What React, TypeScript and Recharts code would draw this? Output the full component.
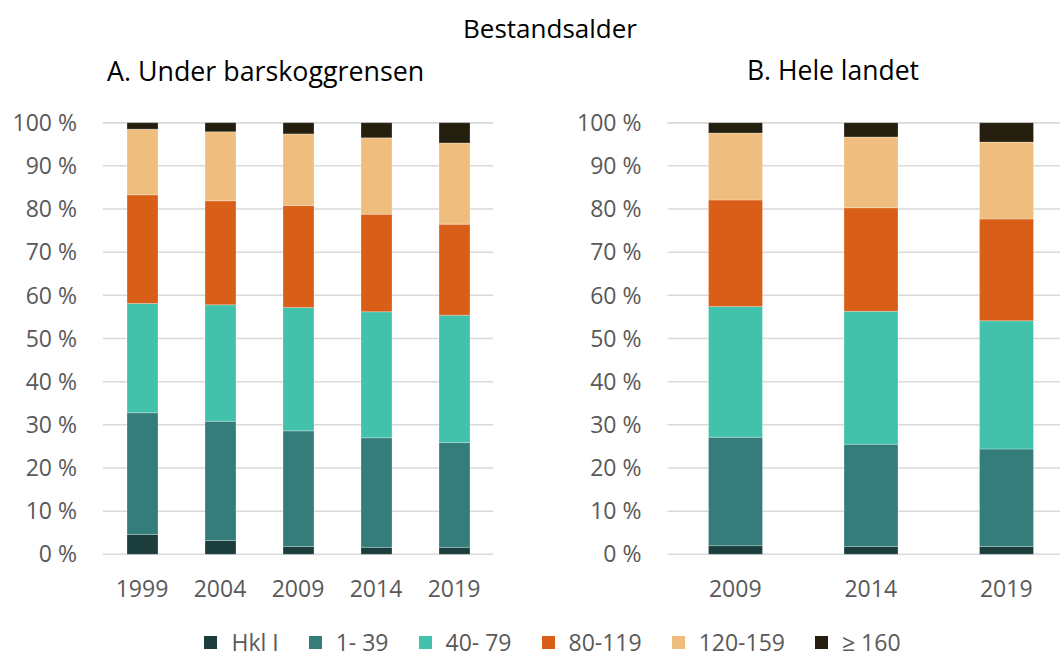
import { BarChart, Bar, XAxis, YAxis, CartesianGrid } from 'recharts';

const yearsA = ['1999', '2004', '2009', '2014', '2019'];
const hklA = [4.6, 3.2, 1.8, 1.6, 1.6];
const age1to39A = [28.2, 27.6, 26.8, 25.4, 24.3];
const age40to79A = [25.3, 27.0, 28.6, 29.2, 29.5];
const age80to119A = [25.2, 24.1, 23.6, 22.6, 21.1];
const age120to159A = [15.2, 16.0, 16.6, 17.7, 18.8];
const age160A = [1.5, 2.1, 2.6, 3.5, 4.7];

const yearsB = ['2009', '2014', '2019'];
const hklB = [2.0, 1.8, 1.8];
const age1to39B = [25.1, 23.7, 22.6];
const age40to79B = [30.3, 30.8, 29.7];
const age80to119B = [24.7, 24.0, 23.6];
const age120to159B = [15.5, 16.4, 17.8];
const age160B = [2.4, 3.3, 4.5];

const yTicks = [0, 10, 20, 30, 40, 50, 60, 70, 80, 90, 100];

const seriesKeys = ['hkl', 'a1', 'a40', 'a80', 'a120', 'a160'];
const seriesLabels = ['Hkl I', '1- 39', '40- 79', '80-119', '120-159', '≥ 160'];
const seriesColors = ['#1b3d3c', '#347d7b', '#42c2ab', '#d95f19', '#efbe7e', '#241e0f'];

const TEXT = '#595959';
const FONT = '"Open Sans", sans-serif';

function buildRows(years: string[], cols: number[][]) {
  return years.map((year, i) => {
    const row: Record<string, any> = { year };
    seriesKeys.forEach((k, j) => {
      row[k] = cols[j][i];
    });
    return row;
  });
}

const dataA = buildRows(yearsA, [hklA, age1to39A, age40to79A, age80to119A, age120to159A, age160A]);
const dataB = buildRows(yearsB, [hklB, age1to39B, age40to79B, age80to119B, age120to159B, age160B]);

const tickStyle = { fill: TEXT, fontSize: 23, fontFamily: FONT };

function Panel({ data, width, yWidth, barSize }: { data: any[]; width: number; yWidth: number; barSize: number }) {
  return (
    <BarChart width={width} height={520} data={data} margin={{ top: 22.7, right: 0, left: 0, bottom: 25.7 }}>
      <CartesianGrid vertical={false} stroke="#d9d9d9" strokeWidth={1.5} />
      <XAxis
        dataKey="year"
        axisLine={false}
        tickLine={false}
        tick={tickStyle}
        tickMargin={20}
        height={40}
        interval={0}
      />
      <YAxis
        domain={[0, 100]}
        ticks={yTicks}
        axisLine={false}
        tickLine={false}
        tick={tickStyle}
        tickMargin={20}
        width={yWidth}
        tickFormatter={(v) => `${v} %`}
        interval={0}
      />
      {seriesKeys.map((k, i) => (
        <Bar
          key={k}
          dataKey={k}
          stackId="s"
          fill={seriesColors[i]}
          barSize={barSize}
          stroke="#ffffff"
          strokeOpacity={0.25}
          strokeWidth={1}
          isAnimationActive={false}
        />
      ))}
    </BarChart>
  );
}

export default function App() {
  return (
    <div
      style={{
        position: 'absolute',
        left: 0,
        top: 0,
        width: 1060,
        height: 658,
        overflow: 'hidden',
        background: '#fff',
        fontFamily: FONT,
        color: '#000',
      }}
    >
      <div style={{ position: 'absolute', top: 10, left: 0, width: 1100, textAlign: 'center', fontSize: 26 }}>
        Bestandsalder
      </div>
      <div style={{ position: 'absolute', top: 52, left: 107, fontSize: 26.8, whiteSpace: 'nowrap' }}>
        A. Under barskoggrensen
      </div>
      <div style={{ position: 'absolute', top: 52, left: 747, fontSize: 26.5, whiteSpace: 'nowrap' }}>
        B. Hele landet
      </div>

      <div style={{ position: 'absolute', left: 0, top: 100 }}>
        <Panel data={dataA} width={493} yWidth={103} barSize={31} />
      </div>
      <div style={{ position: 'absolute', left: 560, top: 100 }}>
        <Panel data={dataB} width={514} yWidth={107.5} barSize={54} />
      </div>

      <div
        style={{
          position: 'absolute',
          top: 632,
          left: 0,
          width: 1105,
          display: 'flex',
          justifyContent: 'center',
          gap: 30,
          fontSize: 23,
          color: TEXT,
          lineHeight: '20px',
        }}
      >
        {seriesLabels.map((label, i) => (
          <div key={label} style={{ display: 'flex', alignItems: 'center', gap: 14 }}>
            <span style={{ width: 13, height: 13, background: seriesColors[i], display: 'inline-block' }} />
            <span>{label}</span>
          </div>
        ))}
      </div>
    </div>
  );
}
